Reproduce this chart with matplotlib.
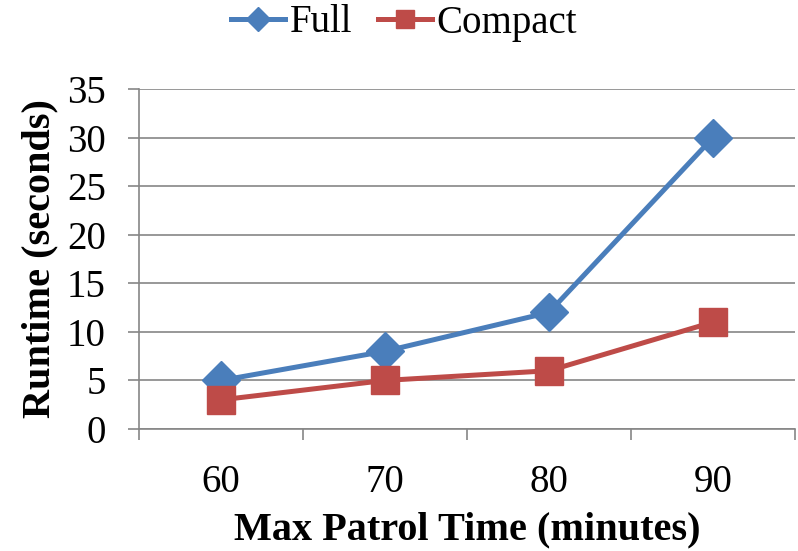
import numpy as np
import matplotlib.pyplot as plt
from matplotlib.ticker import FixedLocator, NullFormatter, FixedFormatter

patrol_time = ["60", "70", "80", "90"]
full_runtime = [5, 8, 12, 30]
compact_runtime = [3, 5, 6, 11]
y_ticks = [0, 5, 10, 15, 20, 25, 30, 35]

blue = "#4A7EBB"
red = "#BE4B48"
grid_grey = "#868686"

plt.rcParams["font.family"] = ["Liberation Serif", "DejaVu Serif"]

fig = plt.figure(figsize=(7.98, 5.51), dpi=100)
ax = fig.add_axes([139 / 798, 1 - 429 / 551, 656 / 798, 340 / 551])

x = np.arange(len(patrol_time))
ax.plot(x, full_runtime, color=blue, lw=3.6, marker="D", ms=19, label="Full", zorder=3)
ax.plot(x, compact_runtime, color=red, lw=3.6, marker="s", ms=20, label="Compact", zorder=3)

ax.set_xlim(-0.5, len(patrol_time) - 0.5)
ax.set_ylim(0, 35)
ax.set_yticks(y_ticks)
ax.yaxis.grid(True, color=grid_grey, lw=1.2)
ax.set_axisbelow(True)

# ticks between categories, labels at category centres
ax.xaxis.set_major_locator(FixedLocator(np.arange(-0.5, len(patrol_time), 1.0)))
ax.xaxis.set_major_formatter(NullFormatter())
ax.xaxis.set_minor_locator(FixedLocator(x))
ax.xaxis.set_minor_formatter(FixedFormatter(patrol_time))
ax.tick_params(axis="x", which="major", length=8, width=1.2, color=grid_grey)
ax.tick_params(axis="x", which="minor", length=0, pad=25, labelsize=28)
ax.tick_params(axis="y", length=8, width=1.2, color=grid_grey, pad=16, labelsize=28)

for side in ["top", "right"]:
    ax.spines[side].set_visible(False)
for side in ["left", "bottom"]:
    ax.spines[side].set_color(grid_grey)
    ax.spines[side].set_linewidth(1.2)

ax.set_xlabel("Max Patrol Time (minutes)", fontsize=29, fontweight="bold", labelpad=8)
ax.set_ylabel("Runtime (seconds)", fontsize=29, fontweight="bold", labelpad=6)

ax.legend(loc="center", bbox_to_anchor=(404 / 798, 1 - 23 / 551),
          bbox_transform=fig.transFigure, ncol=2, frameon=False, fontsize=28,
          markerscale=0.65, handlelength=1.4, handletextpad=0.12, columnspacing=0.65)

fig.savefig("out.png", dpi=100)
